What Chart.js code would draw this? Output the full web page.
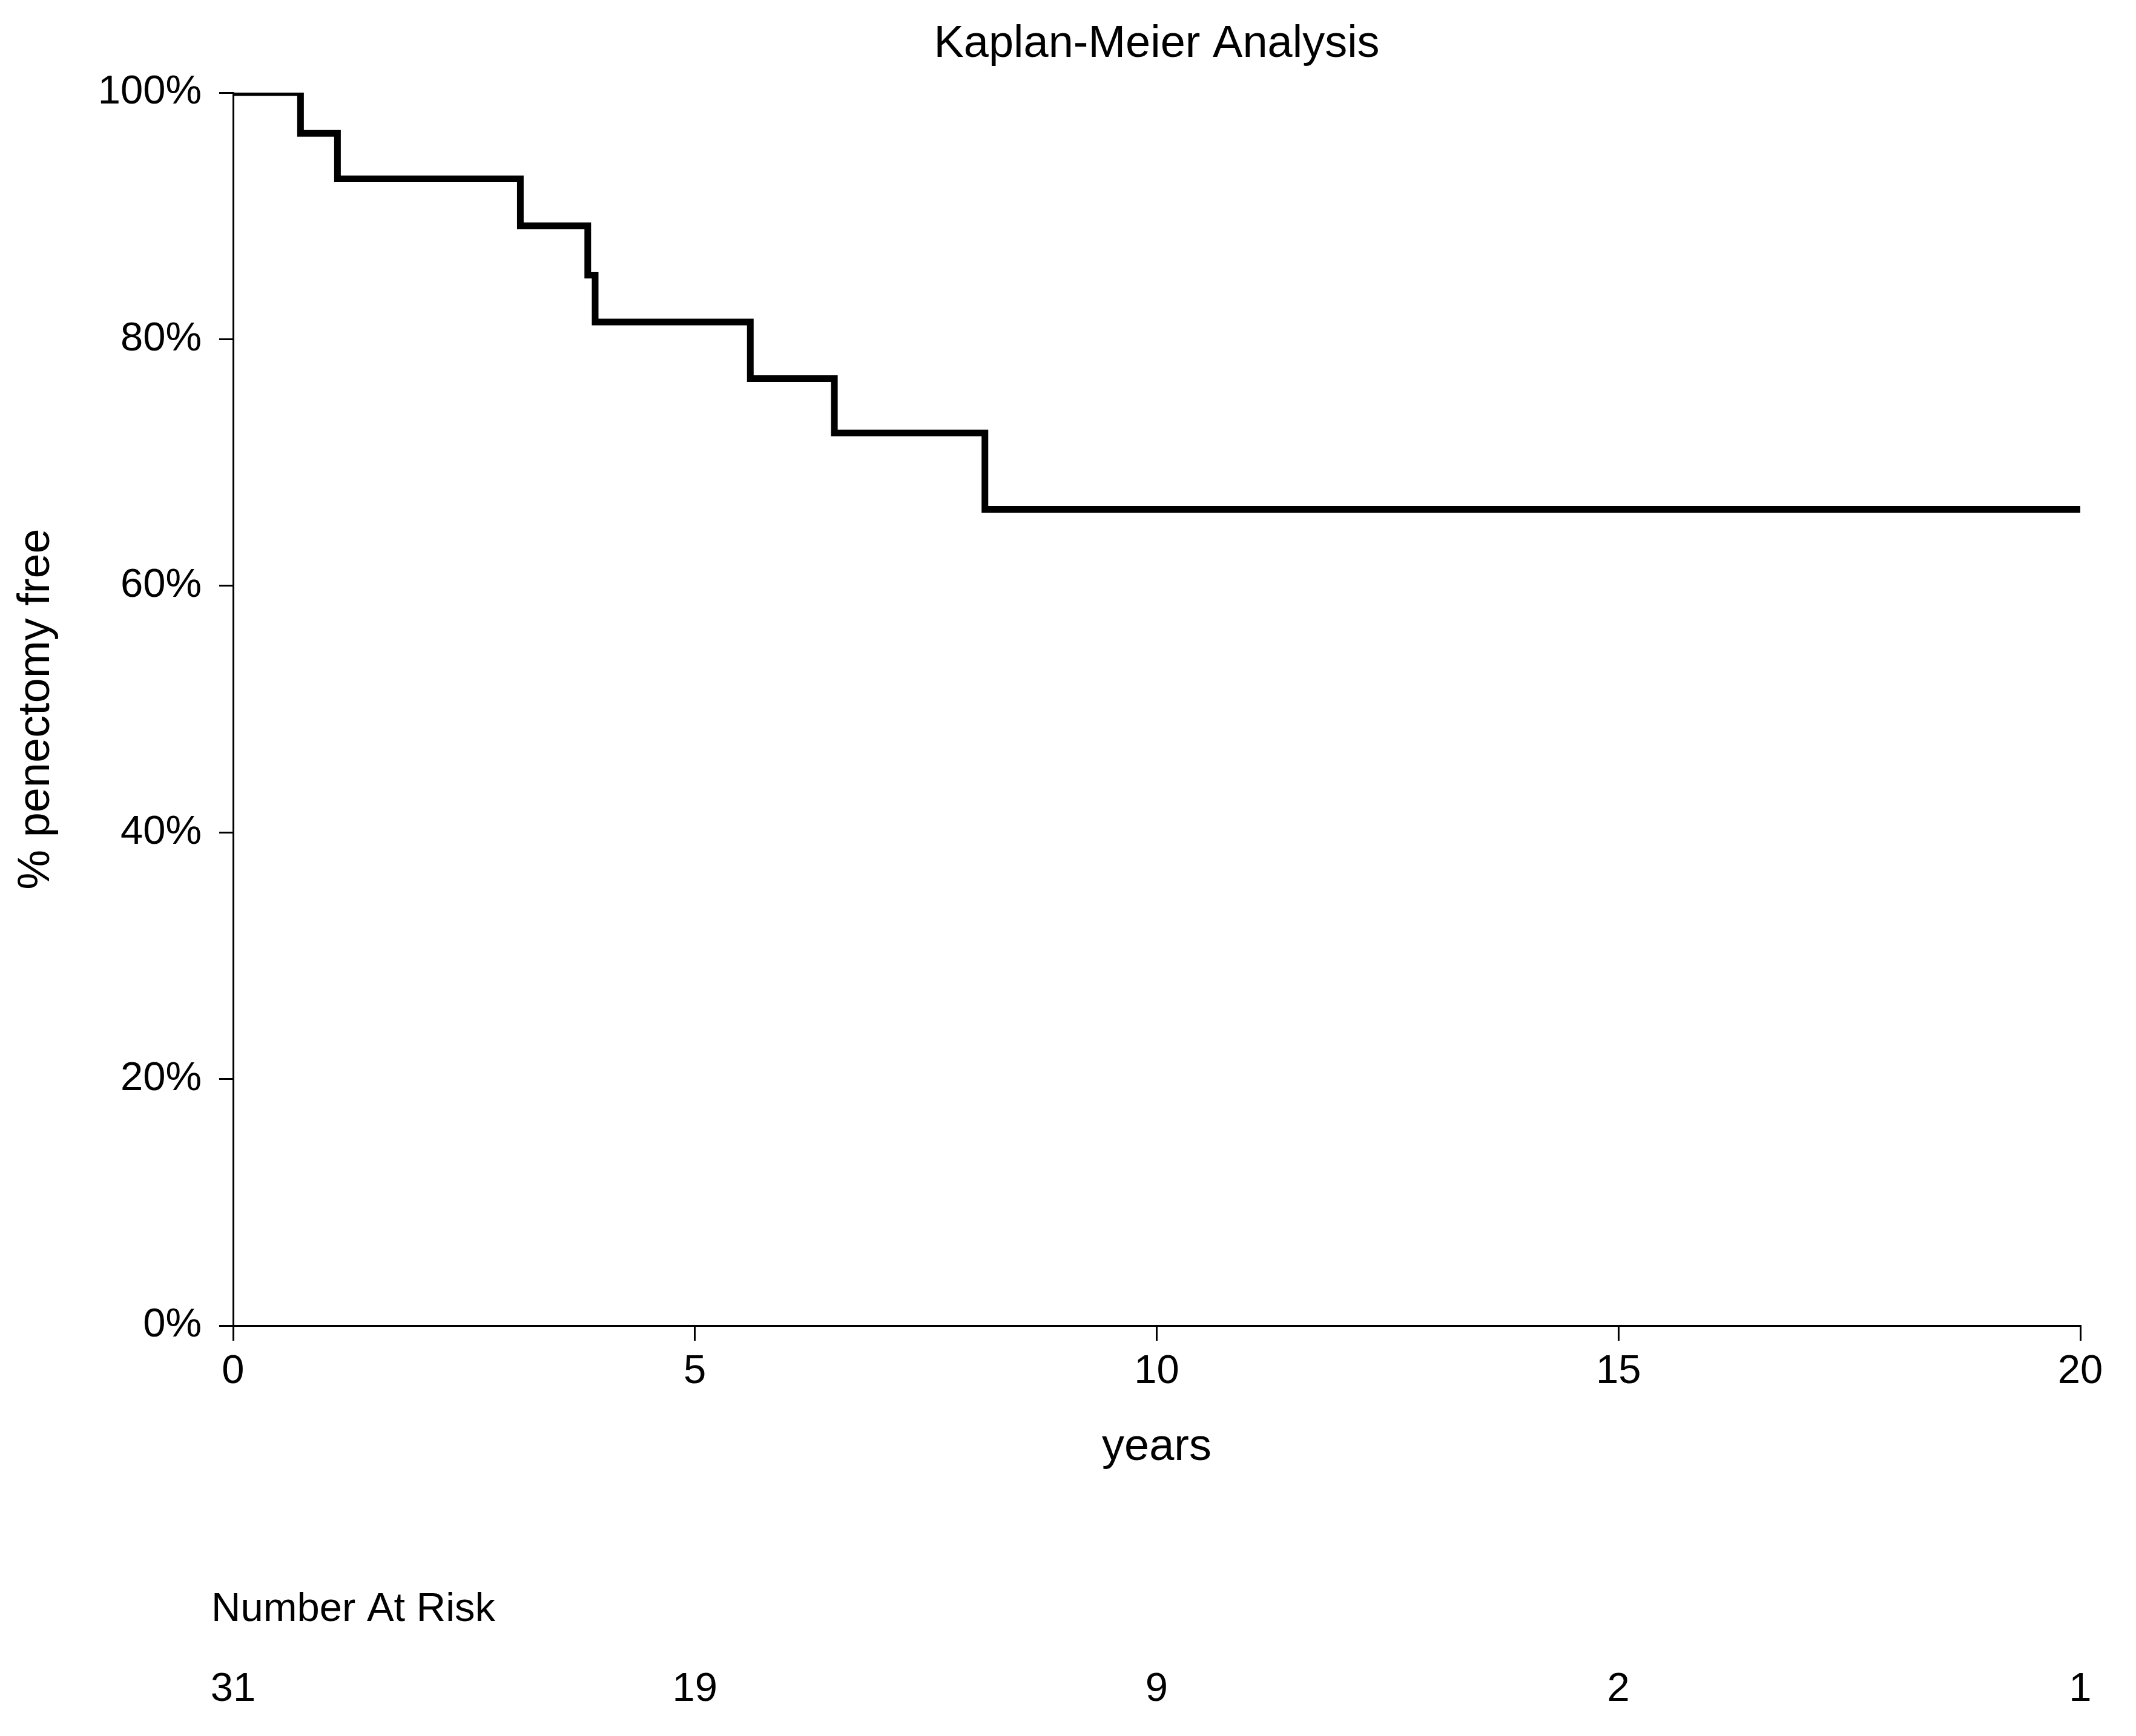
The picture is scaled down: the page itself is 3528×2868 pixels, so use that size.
<!DOCTYPE html>
<html>
<head>
<meta charset="utf-8">
<title>Kaplan-Meier Analysis</title>
<script src="https://cdn.jsdelivr.net/npm/chart.js@4.4.0/dist/chart.umd.min.js"></script>
<style>
  html, body { margin: 0; padding: 0; background: #fff; }
  #wrap { width: 3528px; height: 2868px; position: relative; }
</style>
</head>
<body>
<div id="wrap"><canvas id="kmChart"></canvas></div>
<script>
// --- Data ---
const eventYears = [0, 0.73, 1.13, 3.11, 3.84, 3.92, 5.60, 6.51, 8.14, 20];
const survivalPct = [100, 96.7, 93.0, 89.2, 85.2, 81.4, 76.8, 72.4, 66.2, 66.2];

const xTicks = [0, 5, 10, 15, 20];
const yTicks = [0, 20, 40, 60, 80, 100];

const atRiskYears = [0, 5, 10, 15, 20];
const atRiskCounts = [31, 19, 9, 2, 1];

const FONT = "'Liberation Sans', Arial, sans-serif";

// --- Number at risk table, drawn under the x axis ---
const atRiskPlugin = {
  id: 'atRisk',
  afterDraw(chart) {
    const ctx = chart.ctx;
    const x = chart.scales.x;
    ctx.save();
    ctx.fillStyle = '#000';
    ctx.font = '67px ' + FONT;
    ctx.textBaseline = 'middle';
    ctx.textAlign = 'left';
    ctx.fillText('Number At Risk', 349, 2660);
    ctx.textAlign = 'center';
    atRiskYears.forEach((t, i) => {
      ctx.fillText(String(atRiskCounts[i]), x.getPixelForValue(t), 2792);
    });
    ctx.restore();
  }
};

new Chart(document.getElementById('kmChart'), {
  type: 'line',
  data: {
    datasets: [{
      label: '% penectomy free',
      data: eventYears.map((t, i) => ({ x: t, y: survivalPct[i] })),
      borderColor: '#000',
      borderWidth: 11,
      stepped: 'before',
      pointRadius: 0,
      fill: false,
      borderCapStyle: 'butt',
      borderJoinStyle: 'miter'
    }]
  },
  options: {
    responsive: true,
    maintainAspectRatio: false,
    animation: false,
    devicePixelRatio: 1,
    layout: { padding: { left: 0, right: 92, top: 0, bottom: 378 } },
    plugins: {
      legend: { display: false },
      tooltip: { enabled: false },
      title: {
        display: true,
        fullSize: false, // centre over the plot area, not the canvas
        text: 'Kaplan-Meier Analysis',
        color: '#000',
        font: { family: FONT, size: 74, weight: 'normal' },
        padding: { top: 29.6, bottom: 34.6 }
      }
    },
    scales: {
      x: {
        type: 'linear',
        min: 0,
        max: 20,
        afterBuildTicks: (s) => { s.ticks = xTicks.map(v => ({ value: v })); },
        afterFit: (s) => { s.height = 300; },
        border: { display: true, color: '#000', width: 3 },
        grid: { drawOnChartArea: false, drawTicks: true, tickLength: 25, color: '#000', lineWidth: 3 },
        ticks: {
          color: '#000',
          padding: 11,
          maxRotation: 0,
          font: { family: FONT, size: 67 }
        },
        title: {
          display: true,
          text: 'years',
          color: '#000',
          font: { family: FONT, size: 74 },
          padding: { top: 0, bottom: 53.6 }
        }
      },
      y: {
        type: 'linear',
        min: 0,
        max: 100,
        afterBuildTicks: (s) => { s.ticks = yTicks.map(v => ({ value: v })); },
        afterFit: (s) => { s.width = 385; },
        border: { display: true, color: '#000', width: 3 },
        grid: { drawOnChartArea: false, drawTicks: true, tickLength: 23, color: '#000', lineWidth: 3 },
        ticks: {
          color: '#000',
          padding: 29,
          font: { family: FONT, size: 67 },
          callback: (v) => v + '%'
        },
        title: {
          display: true,
          text: '% penectomy free',
          color: '#000',
          font: { family: FONT, size: 74 },
          padding: { top: 16.6, bottom: 0 }
        }
      }
    }
  },
  plugins: [atRiskPlugin]
});
</script>
</body>
</html>
